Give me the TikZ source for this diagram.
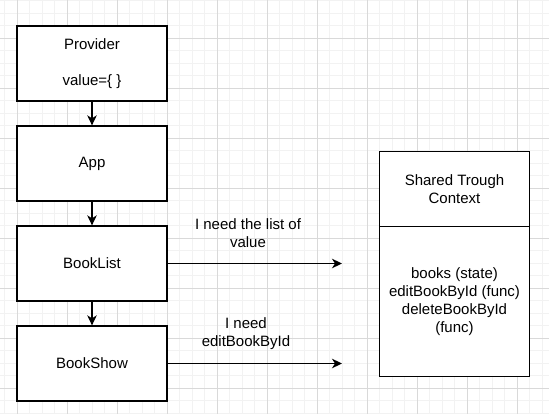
\documentclass[tikz,border=0pt]{standalone}
\usepackage{fontspec}
\setmainfont{Liberation Sans}
\usetikzlibrary{arrows.meta}
\begin{document}
\begin{tikzpicture}[x=1pt,y=-1pt,
  minorgrid/.style={draw=black!5, line width=0.8pt},
  majorgrid/.style={draw=black!15, line width=0.8pt},
  box/.style={draw=black, line width=1.3pt, fill=white, minimum width=150pt, minimum height=75pt,
    inner sep=0pt, align=center, font=\fontsize{15}{18}\selectfont},
  tallbox/.style={box, minimum height=150pt},
  lbl/.style={align=center, inner sep=0pt, font=\fontsize{15}{18}\selectfont},
  conn/.style={draw=black, line width=1.3pt, -{Stealth[length=10pt,width=9.5pt,inset=3pt]}}
]
\useasboundingbox (0,0) rectangle (549,414);
\fill[white] (0,0) rectangle (549,414);
% grid
\foreach \i in {0,...,44} \draw[minorgrid] ({4.8+12.5*\i},0) -- ({4.8+12.5*\i},414);
\foreach \i in {0,...,33} \draw[minorgrid] (0,{0.8+12.5*\i}) -- (549,{0.8+12.5*\i});
\foreach \i in {0,...,10} \draw[majorgrid] ({17.3+50*\i},0) -- ({17.3+50*\i},414);
\foreach \i in {0,...,7} \draw[majorgrid] (0,{38.3+50*\i}) -- (549,{38.3+50*\i});
% nodes
\node[box] (provider) at (92,63.5) {Provider\\\strut\\value=\{ \}};
\node[box] (app) at (92,163.5) {App};
\node[box] (booklist) at (92,263.5) {BookList};
\node[box] (bookshow) at (92,363.5) {BookShow};
\node[box] (shtop) at (454.5,188.8) {Shared Trough\\Context};
\node[tallbox] (shbody) at (454.5,301.3) {books (state)\\editBookById (func)\\deleteBookById\\(func)};
\coordinate (t1) at (342,263.5);
\coordinate (t2) at (342,363.5);
% connectors
\draw[conn] (provider) -- (app);
\draw[conn] (app) -- (booklist);
\draw[conn] (booklist) -- (bookshow);
\draw[conn] (booklist.east) -- (t1);
\draw[conn] (bookshow.east) -- (t2);
% labels
\node[lbl] (l1) at (248,233.5) {I need the list of\\value};
\node[lbl] (l2) at (246,333.5) {I need\\editBookById};
\end{tikzpicture}
\end{document}
